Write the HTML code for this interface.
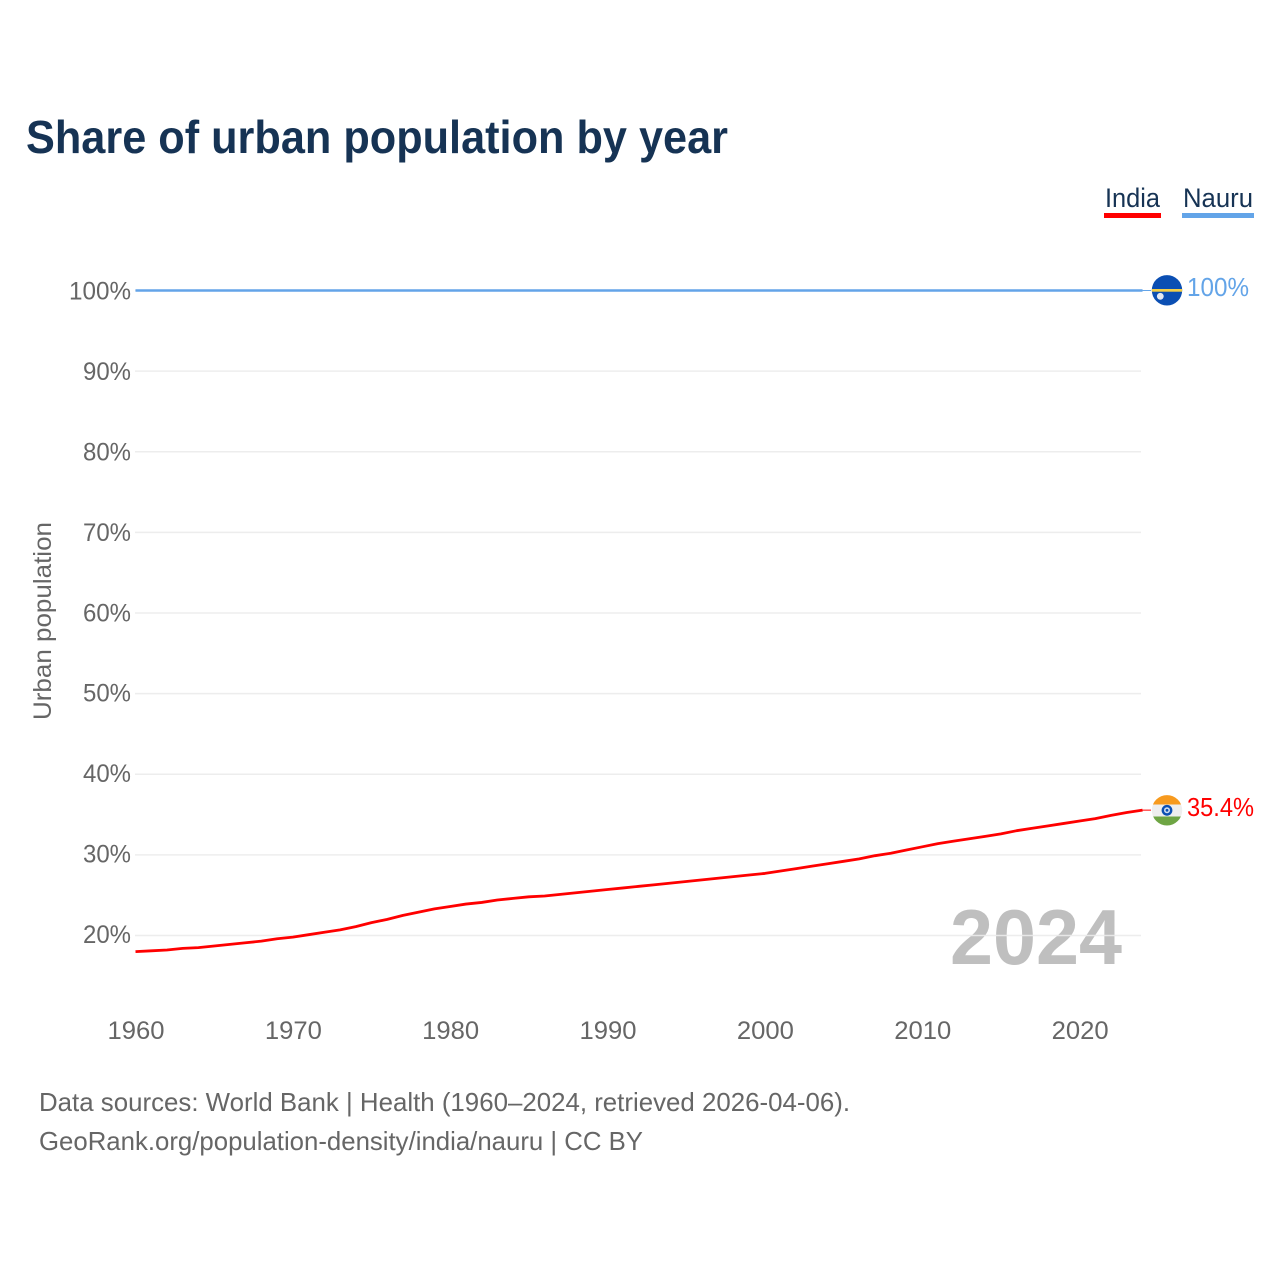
<!DOCTYPE html>
<html lang="en">
<head>
<meta charset="utf-8">
<title>Share of urban population by year</title>
<style>
html,body{margin:0;padding:0;background:#fff;width:1280px;height:1280px;overflow:hidden}
svg{display:block}
text{font-family:"Liberation Sans",sans-serif}
</style>
</head>
<body>
<svg id="chart" width="1280" height="1280" viewBox="0 0 1280 1280" xmlns="http://www.w3.org/2000/svg">
  <text x="26" y="153" font-size="46" font-weight="700" fill="#163354" textLength="702" lengthAdjust="spacingAndGlyphs">Share of urban population by year</text>

  <g>
    <text x="1105" y="207" font-size="27" fill="#163354" textLength="55" lengthAdjust="spacingAndGlyphs">India</text>
    <rect x="1104" y="213" width="57" height="5" fill="#ff0000"/>
    <text x="1183" y="207" font-size="27" fill="#163354" textLength="70" lengthAdjust="spacingAndGlyphs">Nauru</text>
    <rect x="1182" y="213" width="72" height="5" fill="#63a4e8"/>
  </g>

  <text x="950" y="964" font-size="78" font-weight="700" fill="#bfbfbf" textLength="172" lengthAdjust="spacingAndGlyphs">2024</text>

  <g id="grid"></g>
  <g id="yticks"></g>
  <g id="xticks"></g>

  <text transform="translate(51,621) rotate(-90)" text-anchor="middle" font-size="25" fill="#666666" textLength="198" lengthAdjust="spacingAndGlyphs">Urban population</text>

  <g id="series"></g>

  <g>
    <clipPath id="clip-nauru"><circle cx="1167" cy="290.3" r="15.2"/></clipPath>
    <g clip-path="url(#clip-nauru)">
      <rect x="1151" y="275" width="32" height="31" fill="#0b4fb3"/>
      <rect x="1151" y="289" width="32" height="2.7" fill="#f4cf47"/>
      <circle cx="1160.3" cy="296.3" r="3.4" fill="#e4e9f2"/>
    </g>
  </g>
  <g>
    <clipPath id="clip-india"><circle cx="1167" cy="810.3" r="15.2"/></clipPath>
    <g clip-path="url(#clip-india)">
      <rect x="1151" y="795" width="32" height="9.5" fill="#f79a1e"/>
      <rect x="1151" y="804.5" width="32" height="12" fill="#eeeeee"/>
      <rect x="1151" y="816.5" width="32" height="10" fill="#6ea544"/>
      <circle cx="1167" cy="810.3" r="5.4" fill="#0b4fb3"/>
      <circle cx="1167" cy="810.3" r="3" fill="#cfdcf0"/>
      <circle cx="1167" cy="810.3" r="1.4" fill="#0b4fb3"/>
    </g>
  </g>

  <text x="1187" y="296" font-size="26" fill="#63a4e8" textLength="62" lengthAdjust="spacingAndGlyphs">100%</text>
  <text x="1187" y="816" font-size="26" fill="#ff0000" textLength="67" lengthAdjust="spacingAndGlyphs">35.4%</text>

  <g>
    <text x="39" y="1111" font-size="26" fill="#666666" textLength="811" lengthAdjust="spacingAndGlyphs">Data sources: World Bank | Health (1960–2024, retrieved 2026-04-06).</text>
    <text x="39" y="1150" font-size="26" fill="#666666" textLength="604" lengthAdjust="spacingAndGlyphs">GeoRank.org/population-density/india/nauru | CC BY</text>
  </g>
</svg>
<script>
const years = [1960,1961,1962,1963,1964,1965,1966,1967,1968,1969,1970,1971,1972,1973,1974,1975,1976,1977,1978,1979,1980,1981,1982,1983,1984,1985,1986,1987,1988,1989,1990,1991,1992,1993,1994,1995,1996,1997,1998,1999,2000,2001,2002,2003,2004,2005,2006,2007,2008,2009,2010,2011,2012,2013,2014,2015,2016,2017,2018,2019,2020,2021,2022,2023,2024];
const indiaValues = [18.0,18.1,18.2,18.4,18.5,18.7,18.9,19.1,19.3,19.6,19.8,20.1,20.4,20.7,21.1,21.6,22.0,22.5,22.9,23.3,23.6,23.9,24.1,24.4,24.6,24.8,24.9,25.1,25.3,25.5,25.7,25.9,26.1,26.3,26.5,26.7,26.9,27.1,27.3,27.5,27.7,28.0,28.3,28.6,28.9,29.2,29.5,29.9,30.2,30.6,31.0,31.4,31.7,32.0,32.3,32.6,33.0,33.3,33.6,33.9,34.2,34.5,34.9,35.25,35.55];
const nauruValues = [100,100,100,100,100,100,100,100,100,100,100,100,100,100,100,100,100,100,100,100,100,100,100,100,100,100,100,100,100,100,100,100,100,100,100,100,100,100,100,100,100,100,100,100,100,100,100,100,100,100,100,100,100,100,100,100,100,100,100,100,100,100,100,100,100];
const yTickValues = [20,30,40,50,60,70,80,90,100];
const yTickLabels = ["20%","30%","40%","50%","60%","70%","80%","90%","100%"];
const xTickValues = [1960,1970,1980,1990,2000,2010,2020];
const xTickLabels = ["1960","1970","1980","1990","2000","2010","2020"];

const NS = "http://www.w3.org/2000/svg";
function xScale(year){ return 135.5 + (year - 1960) * 15.735; }
function yScale(v){ return 290.5 + (100 - v) * 8.0625; }
function yLabelBaseline(v){ return 299.5 + (100 - v) * 8.044; }
function make(tag, attrs, parent){
  const el = document.createElementNS(NS, tag);
  for (const k in attrs) el.setAttribute(k, attrs[k]);
  parent.appendChild(el);
  return el;
}
const gridG = document.getElementById('grid');
const yG = document.getElementById('yticks');
const xG = document.getElementById('xticks');
const seriesG = document.getElementById('series');

yTickValues.forEach(function(v, i){
  const line = make('line', {x1:135, x2:1141, y1:yScale(v), y2:yScale(v), stroke:'#ebebeb', 'stroke-width':1.5, 'stroke-opacity':0.9}, gridG);
  
  
  const t = make('text', {x:131, y:yLabelBaseline(v), 'text-anchor':'end', 'font-size':25, fill:'#666666', textLength: yTickLabels[i].length === 4 ? 62 : 48, lengthAdjust:'spacingAndGlyphs'}, yG);
  t.textContent = yTickLabels[i];
  
  
});

xTickValues.forEach(function(v, i){
  const t = make('text', {x:xScale(v)+0.5, y:1039, 'text-anchor':'middle', 'font-size':25, fill:'#666666', textLength:57, lengthAdjust:'spacingAndGlyphs'}, xG);
  t.textContent = xTickLabels[i];
  
  
});

function pathFor(values){
  return values.map(function(v, i){
    return (i ? 'L' : 'M') + xScale(years[i]).toFixed(2) + ' ' + yScale(v).toFixed(2);
  }).join(' ');
}
function connector(values){
  const last = values[values.length - 1];
  const y = yScale(last);
  return 'M' + xScale(years[years.length - 1]).toFixed(2) + ' ' + y.toFixed(2) + ' L1151 ' + y.toFixed(2);
}

const nauruLine = make('path', {d:pathFor(nauruValues), fill:'none', stroke:'#63a4e8', 'stroke-width':2.6}, seriesG);


const nauruConn = make('path', {d:connector(nauruValues), fill:'none', stroke:'#63a4e8', 'stroke-width':1}, seriesG);



const indiaLine = make('path', {d:pathFor(indiaValues), fill:'none', stroke:'#ff0000', 'stroke-width':2.8, 'stroke-linejoin':'round'}, seriesG);


const indiaConn = make('path', {d:connector(indiaValues), fill:'none', stroke:'#ff0000', 'stroke-width':1}, seriesG);


</script>
</body>
</html>
